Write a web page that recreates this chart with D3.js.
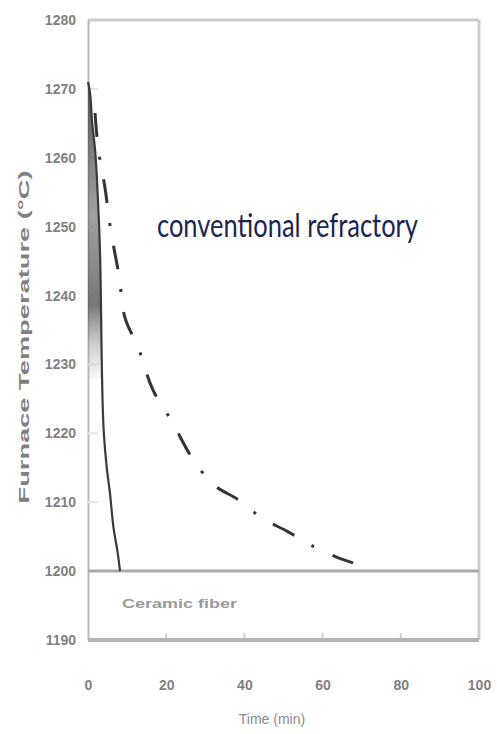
<!DOCTYPE html>
<html>
<head>
<meta charset="utf-8">
<script src="https://cdn.jsdelivr.net/npm/d3@7"></script>
<style>
  html, body { margin: 0; padding: 0; background: #fff; }
  svg { display: block; }
</style>
</head>
<body>
<svg id="chart" width="497" height="734"></svg>
<script>
// ---- data ----
const yTicks = [1190, 1200, 1210, 1220, 1230, 1240, 1250, 1260, 1270, 1280];
const xTicks = [0, 20, 40, 60, 80, 100];
const xTickLabels = ["0", "20", "40", "60", "80", "100"];

// Ceramic fiber furnace (solid line): time (min), temperature (°C)
const fiberTime = [0, 0.5, 1.0, 1.8, 2.55, 3.05, 3.3, 3.45, 3.6, 4.1, 4.8, 5.6, 6.6, 7.5, 8.2];
const fiberTemp = [1271, 1269.5, 1265.5, 1261.2, 1253.9, 1246.7, 1239.4, 1233, 1227.8, 1219.6, 1215, 1211.4, 1206, 1203, 1200];

// Conventional refractory furnace (dash-dot line)
const convTime = [1.8, 2.6, 4.3, 5.9, 7.9, 9.5, 12.8, 16.6, 21.7, 26.1, 32.0, 38.6, 44.5, 51.2, 56.9, 63.7, 67.8];
const convTemp = [1266.5, 1261.4, 1255.8, 1249.2, 1243.0, 1236.7, 1232.5, 1226.3, 1221.5, 1216.9, 1212.6, 1210.3, 1207.7, 1205.7, 1203.8, 1202.0, 1201.2];

const targetTemp = 1200;

// ---- layout ----
const svg = d3.select("#chart");
const mLeft = 88, mRight = 479, mTop = 20, mBottom = 640;

const x = d3.scaleLinear().domain([0, 100]).range([mLeft, mRight]);
const y = d3.scaleLinear().domain([1190, 1280]).range([mBottom, mTop]);

const fiber = fiberTime.map((t, i) => ({t, v: fiberTemp[i]}));
const conv = convTime.map((t, i) => ({t, v: convTemp[i]}));

// frame
svg.append("line").attr("x1", mLeft).attr("x2", mRight).attr("y1", mTop).attr("y2", mTop)
  .attr("stroke", "#cccccc").attr("stroke-width", 3);
svg.append("line").attr("x1", mRight).attr("x2", mRight).attr("y1", mTop).attr("y2", mBottom)
  .attr("stroke", "#cccccc").attr("stroke-width", 3);

// y axis
const yAxis = d3.axisLeft(y).tickValues(yTicks).tickSize(0).tickPadding(12).tickFormat(d3.format("d"));
const gy = svg.append("g").attr("transform", `translate(${mLeft},0)`).call(yAxis);
gy.select(".domain").attr("stroke", "#b8b8b8").attr("stroke-width", 2);
gy.selectAll("text").attr("font-family", "Liberation Sans, Arial, sans-serif")
  .attr("font-size", 14).attr("fill", "#808080").attr("font-weight", "bold");
// light inner ticks on y
svg.append("g").selectAll("line").data(yTicks.filter(d => d > 1200 && d < 1280)).join("line")
  .attr("x1", mLeft).attr("x2", mLeft + 10).attr("y1", d => y(d)).attr("y2", d => y(d))
  .attr("stroke", "#e4e4e4").attr("stroke-width", 2);

// x axis
const xAxis = d3.axisBottom(x).tickValues(xTicks).tickSize(0).tickPadding(40)
  .tickFormat((d, i) => xTickLabels[i]);
const gx = svg.append("g").attr("transform", `translate(0,${mBottom})`).call(xAxis);
gx.select(".domain").remove();
gx.selectAll("text").attr("font-family", "Liberation Sans, Arial, sans-serif")
  .attr("font-size", 14).attr("fill", "#808080").attr("font-weight", "bold");
svg.append("line").attr("x1", mLeft).attr("x2", mRight).attr("y1", mBottom).attr("y2", mBottom)
  .attr("stroke", "#b4b4b4").attr("stroke-width", 4);
svg.append("g").selectAll("line").data(xTicks.filter(d => d > 0 && d < 100)).join("line")
  .attr("x1", d => x(d)).attr("x2", d => x(d)).attr("y1", mBottom - 2).attr("y2", mBottom - 7)
  .attr("stroke", "#d0d0d0").attr("stroke-width", 2);

// 1200 reference line
svg.append("line").attr("x1", mLeft).attr("x2", mRight).attr("y1", y(targetTemp)).attr("y2", y(targetTemp))
  .attr("stroke", "#aaaaaa").attr("stroke-width", 3);

// shaded band under the fiber curve (upper part)
const bandData = fiber.filter(d => d.v >= 1226);
const grad = svg.append("defs").append("linearGradient").attr("id", "bandGrad")
  .attr("x1", "0").attr("x2", "0").attr("y1", "0").attr("y2", "1");
grad.append("stop").attr("offset", "0%").attr("stop-color", "#444").attr("stop-opacity", 0.9);
grad.append("stop").attr("offset", "45%").attr("stop-color", "#777").attr("stop-opacity", 0.7);
grad.append("stop").attr("offset", "75%").attr("stop-color", "#555").attr("stop-opacity", 0.8);
grad.append("stop").attr("offset", "100%").attr("stop-color", "#bbb").attr("stop-opacity", 0.1);
svg.append("path").datum(bandData)
  .attr("d", d3.area().x0(x(0)).x1(d => x(d.t)).y(d => y(d.v)).curve(d3.curveMonotoneY))
  .attr("fill", "url(#bandGrad)");

// solid fiber curve
svg.append("path").datum(fiber)
  .attr("d", d3.line().x(d => x(d.t)).y(d => y(d.v)).curve(d3.curveMonotoneY))
  .attr("fill", "none").attr("stroke", "#3a3a3a").attr("stroke-width", 2.2);

// dash-dot conventional curve
svg.append("path").datum(conv)
  .attr("d", d3.line().x(d => x(d.t)).y(d => y(d.v)).curve(d3.curveCatmullRom))
  .attr("fill", "none").attr("stroke", "#333").attr("stroke-width", 3)
  .attr("stroke-dasharray", "24,20,3,20");

// annotations
svg.append("text").attr("x", 157).attr("y", 237 / 1.5)
  .attr("transform", "scale(1,1.5)")
  .attr("font-family", "Lato, 'Open Sans', sans-serif").attr("font-size", 22)
  .attr("textLength", 261).attr("lengthAdjust", "spacingAndGlyphs")
  .attr("fill", "#1c2650").text("conventional refractory");

svg.append("text").attr("x", 122).attr("y", 608)
  .attr("font-family", "Liberation Sans, Arial, sans-serif").attr("font-size", 13)
  .attr("textLength", 115).attr("lengthAdjust", "spacingAndGlyphs")
  .attr("fill", "#9a9a9a").attr("font-weight", "bold").text("Ceramic fiber");

// axis titles
svg.append("text").attr("x", 272).attr("y", 724).attr("text-anchor", "middle")
  .attr("font-family", "Liberation Sans, Arial, sans-serif").attr("font-size", 14)
  .attr("fill", "#8a8a8a").text("Time (min)");

svg.append("text").attr("transform", "translate(29,337) rotate(-90)").attr("text-anchor", "middle")
  .attr("font-family", "Liberation Sans, Arial, sans-serif").attr("font-size", 15)
  .attr("textLength", 333).attr("lengthAdjust", "spacingAndGlyphs")
  .attr("fill", "#808080").attr("font-weight", "bold").text("Furnace Temperature (°C)");
</script>
</body>
</html>
